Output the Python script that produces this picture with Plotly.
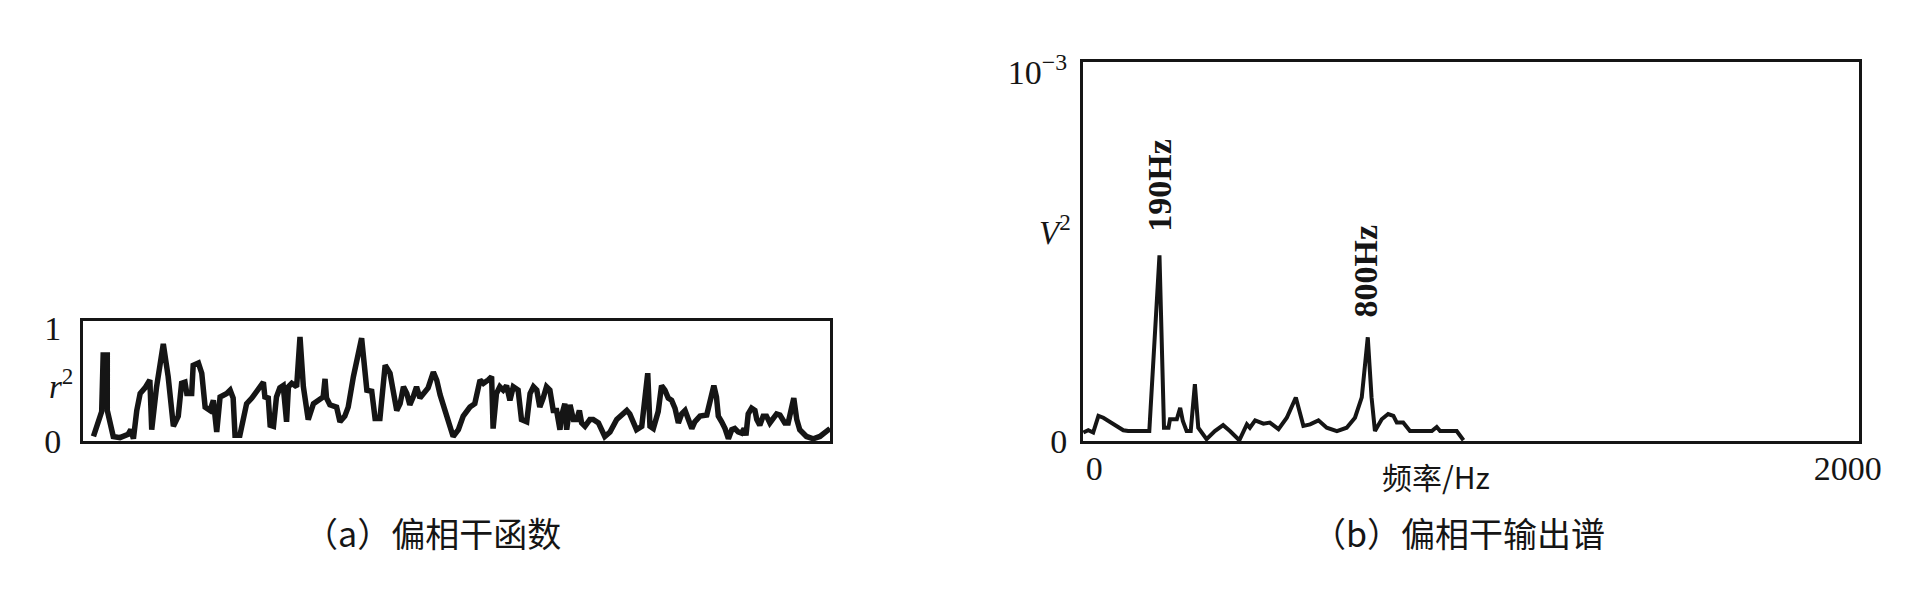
import plotly.graph_objects as go

# ---- Panel (a): partial coherence function r^2 ----
coh_freq = [28, 50, 54, 65, 65, 81, 99, 121, 128, 135, 144, 153, 166, 179, 184, 197, 215, 228, 242, 255,
            264, 273, 278, 291, 295, 309, 318, 327, 340, 349, 358, 367, 385, 394, 402, 407, 420, 429, 438, 452,
            465, 478, 483, 487, 496, 501, 510, 518, 527, 536, 545, 550, 559, 572, 581, 590, 603, 617, 630, 643,
            648, 652, 661, 679, 688, 701, 710, 724, 746, 760, 773, 782, 795, 809, 822, 831, 840, 849, 858, 867,
            875, 884, 893, 902, 911, 924, 938, 947, 956, 974, 991, 1005, 1018, 1036, 1049, 1063, 1072, 1085, 1094, 1098,
            1107, 1116, 1125, 1134, 1143, 1152, 1165, 1174, 1188, 1197, 1206, 1215, 1223, 1232, 1241, 1250, 1259, 1268, 1277, 1281,
            1290, 1295, 1304, 1313, 1322, 1329, 1335, 1344, 1357, 1366, 1380, 1397, 1411, 1429, 1446, 1456, 1464, 1473, 1482, 1496,
            1504, 1512, 1518, 1527, 1540, 1549, 1558, 1567, 1576, 1585, 1594, 1603, 1612, 1621, 1630, 1638, 1652, 1670, 1678, 1689,
            1696, 1701, 1710, 1719, 1728, 1737, 1745, 1754, 1763, 1770, 1775, 1781, 1790, 1799, 1804, 1812, 1821, 1830, 1839, 1848,
            1857, 1866, 1879, 1888, 1897, 1903, 1911, 1919, 1937, 1955, 1973, 1986, 2000]
coh_vals = [0.04, 0.26, 0.76, 0.76, 0.27, 0.04, 0.03, 0.06, 0.10, 0.02, 0.27, 0.42, 0.47, 0.54, 0.10, 0.48, 0.86, 0.57, 0.13, 0.22,
            0.51, 0.52, 0.42, 0.42, 0.67, 0.69, 0.60, 0.30, 0.27, 0.36, 0.08, 0.39, 0.42, 0.45, 0.38, 0.05, 0.05, 0.19, 0.33, 0.38,
            0.44, 0.49, 0.52, 0.39, 0.38, 0.14, 0.13, 0.39, 0.47, 0.49, 0.17, 0.48, 0.51, 0.48, 0.92, 0.48, 0.19, 0.33, 0.36, 0.39,
            0.55, 0.38, 0.32, 0.30, 0.17, 0.22, 0.30, 0.57, 0.91, 0.45, 0.44, 0.20, 0.20, 0.67, 0.60, 0.45, 0.27, 0.33, 0.48, 0.42,
            0.32, 0.39, 0.48, 0.38, 0.42, 0.47, 0.61, 0.54, 0.41, 0.22, 0.04, 0.10, 0.22, 0.30, 0.33, 0.54, 0.51, 0.54, 0.57, 0.11,
            0.42, 0.48, 0.45, 0.49, 0.36, 0.48, 0.45, 0.19, 0.17, 0.42, 0.48, 0.45, 0.30, 0.38, 0.48, 0.45, 0.27, 0.27, 0.10, 0.22,
            0.33, 0.10, 0.32, 0.19, 0.19, 0.27, 0.16, 0.13, 0.19, 0.19, 0.16, 0.04, 0.08, 0.19, 0.24, 0.27, 0.24, 0.16, 0.10, 0.13,
            0.42, 0.60, 0.13, 0.11, 0.26, 0.49, 0.45, 0.38, 0.36, 0.29, 0.16, 0.24, 0.27, 0.19, 0.11, 0.17, 0.22, 0.23, 0.33, 0.49,
            0.39, 0.22, 0.17, 0.11, 0.02, 0.10, 0.11, 0.08, 0.07, 0.11, 0.05, 0.24, 0.29, 0.27, 0.19, 0.14, 0.22, 0.22, 0.16, 0.20,
            0.24, 0.23, 0.16, 0.16, 0.27, 0.38, 0.19, 0.10, 0.04, 0.02, 0.04, 0.07, 0.11]

# ---- Panel (b): partial coherent output spectrum (units of 1e-3 V^2) ----
spec_freq = [-29, -16, -3, 11, 24, 50, 77, 90, 146, 173, 185, 197, 201, 219, 228, 235, 245, 256, 267, 276,
             298, 320, 342, 360, 385, 405, 413, 427, 449, 466, 489, 511, 535, 555, 573, 595, 617, 644, 670, 692,
             710, 726, 736, 745, 763, 780, 794, 803, 820, 838, 896, 909, 918, 962, 980]
spec_vals = [0.023, 0.029, 0.023, 0.068, 0.063, 0.047, 0.029, 0.027, 0.027, 0.503, 0.036, 0.036, 0.059, 0.059, 0.090, 0.054, 0.027, 0.027, 0.154, 0.036,
             0.005, 0.027, 0.043, 0.027, 0.002, 0.045, 0.036, 0.056, 0.047, 0.050, 0.032, 0.063, 0.118, 0.041, 0.045, 0.056, 0.036, 0.027, 0.036, 0.063,
             0.118, 0.281, 0.118, 0.027, 0.059, 0.073, 0.068, 0.050, 0.050, 0.027, 0.027, 0.038, 0.027, 0.027, 0.002]

peak_labels = ["190Hz", "800Hz"]
peak_label_x = [174, 721]
peak_label_y = [0.694, 0.462]

W, H = 1920, 591
OFF = 8  # default page body margin in the browser
def px(x): return (x - OFF) / W
def py(y): return 1 - (y - OFF) / H

serif = "Liberation Serif"
cjk = "Noto Sans CJK SC"
ink = "#151515"

fig = go.Figure()
fig.add_trace(go.Scatter(x=coh_freq, y=coh_vals, mode="lines",
                         line=dict(color=ink, width=5.5), xaxis="x", yaxis="y", showlegend=False))
fig.add_trace(go.Scatter(x=spec_freq, y=spec_vals, mode="lines",
                         line=dict(color=ink, width=4), xaxis="x2", yaxis="y2", showlegend=False))

axis_common = dict(showline=True, mirror=True, linecolor=ink, linewidth=3,
                   showgrid=False, zeroline=False, ticks="", automargin=False)
tickfont = dict(family=serif, size=34, color=ink)

fig.update_layout(
    width=W, height=H,
    margin=dict(l=0, r=0, t=0, b=0, autoexpand=False),
    paper_bgcolor="white", plot_bgcolor="white",
    xaxis=dict(domain=[px(83), px(830)], range=[0, 2000], showticklabels=False, **axis_common),
    yaxis=dict(domain=[py(441), py(321)], range=[0, 1.062], tickvals=[0, 1], ticktext=["0", "1"],
               tickfont=tickfont, ticklabelstandoff=12, **axis_common),
    xaxis2=dict(domain=[px(1083), px(1859)], range=[-30, 2030], tickvals=[0, 2000], ticktext=["0", "2000"],
                tickfont=tickfont, ticklabelstandoff=-5, anchor="y2", **axis_common),
    yaxis2=dict(domain=[py(441), py(62)], range=[0, 1.027], tickvals=[0, 1], ticktext=["0", "10<sup>−3</sup>"],
                tickfont=tickfont, ticklabelstandoff=6, anchor="x2", **axis_common),
)

def note(x, y, text, font):
    return dict(x=px(x), y=py(y), xref="paper", yref="paper", text=text, showarrow=False,
                xanchor="center", yanchor="middle", font=font)

annotations = [
    note(61, 384, "<i>r</i><sup>2</sup>", dict(family=serif, size=33, color=ink)),
    note(1055, 230, "<i>V</i><sup>2</sup>", dict(family=serif, size=33, color=ink)),
    note(1436, 476, "频率/Hz", dict(family=cjk, size=30, color=ink)),
    note(432, 532, "（a）偏相干函数", dict(family=cjk, size=34, color=ink)),
    note(1458, 532, "（b）偏相干输出谱", dict(family=cjk, size=34, color=ink)),
]
for lab, lx, ly in zip(peak_labels, peak_label_x, peak_label_y):
    annotations.append(dict(x=lx, y=ly, xref="x2", yref="y2", text="<b>" + lab + "</b>", textangle=-90,
                            xanchor="center", yanchor="middle",
                            showarrow=False, font=dict(family=serif, size=34, color=ink)))
fig.update_layout(annotations=annotations)

fig.write_html("out.html")
